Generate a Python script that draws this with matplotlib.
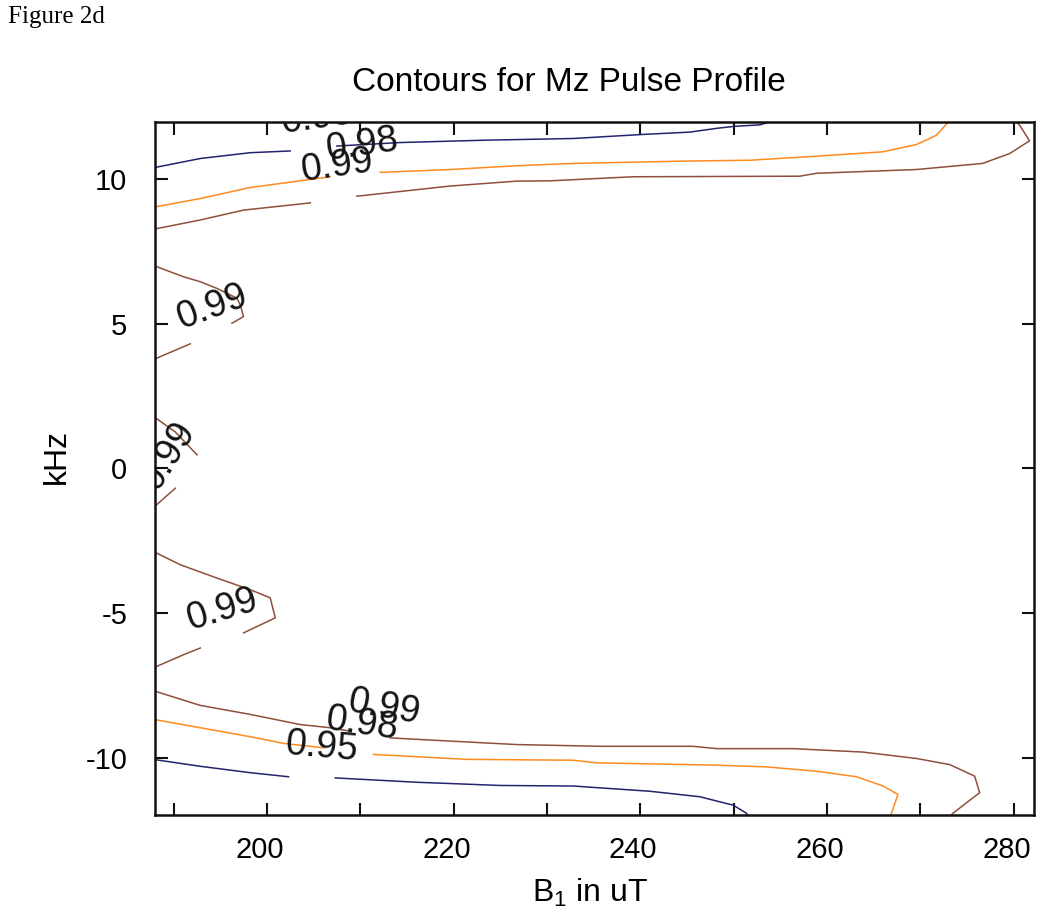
import matplotlib
matplotlib.use("Agg")
import matplotlib.pyplot as plt
from matplotlib.transforms import ScaledTranslation

plt.rcParams["font.family"] = ["Liberation Sans", "DejaVu Sans"]
plt.rcParams["mathtext.default"] = "regular"
plt.rcParams["axes.unicode_minus"] = False

NAVY = "#23246e"
ORANGE = "#ff8a1e"
BROWN = "#8e4f3c"

# contour level 0.95 (navy)
c95_top_a_x = [188.0, 192.86, 198.21, 202.49]
c95_top_a_y = [10.38, 10.69, 10.89, 10.95]
c95_top_b_x = [207.49, 214.27, 223.19, 232.83, 240.29, 245.32, 248.18, 250.14, 252.82, 254.3]
c95_top_b_y = [11.12, 11.24, 11.32, 11.38, 11.52, 11.60, 11.73, 11.80, 11.85, 12.0]
c95_bot_a_x = [188.0, 192.86, 198.21, 202.31]
c95_bot_a_y = [-10.04, -10.27, -10.49, -10.63]
c95_bot_b_x = [207.31, 216.06, 224.98, 232.83, 241.04, 246.39, 249.96, 251.39, 251.6]
c95_bot_b_y = [-10.67, -10.82, -10.93, -10.95, -11.13, -11.32, -11.61, -11.89, -12.0]

# contour level 0.98 (orange)
c98_top_a_x = [188.0, 192.86, 198.21, 203.56, 206.78]
c98_top_a_y = [9.02, 9.31, 9.69, 9.92, 10.06]
c98_top_b_x = [212.13, 219.63, 226.77, 232.80, 244.57, 251.75, 258.89, 265.98, 269.59, 271.73, 272.80, 273.1]
c98_top_b_y = [10.21, 10.31, 10.44, 10.52, 10.60, 10.63, 10.77, 10.92, 11.17, 11.49, 11.87, 12.0]
c98_bot_a_x = [188.0, 192.86, 198.21, 201.78, 206.06]
c98_bot_a_y = [-8.66, -8.94, -9.25, -9.48, -9.63]
c98_bot_b_x = [211.41, 221.41, 232.80, 235.33, 248.18, 253.53, 258.89, 263.17, 266.02, 267.62, 266.92, 266.8]
c98_bot_b_y = [-9.86, -10.03, -10.06, -10.15, -10.23, -10.29, -10.44, -10.63, -10.95, -11.24, -11.89, -12.0]

# contour level 0.99 (brown)
c99_top_a_x = [188.0, 192.86, 197.49, 204.64]
c99_top_a_y = [8.26, 8.57, 8.91, 9.16]
c99_top_b_x = [209.64, 219.63, 226.77, 230.33, 239.22, 257.10, 258.89, 269.59, 276.69, 279.58, 281.72, 280.65, 279.9]
c99_top_b_y = [9.39, 9.74, 9.91, 9.92, 10.06, 10.08, 10.18, 10.31, 10.52, 10.86, 11.30, 11.84, 12.08]
c99_p5_a_x = [188.0, 191.07, 192.86, 194.65, 196.79, 197.14, 197.49, 196.25]
c99_p5_a_y = [6.98, 6.61, 6.44, 6.21, 5.87, 5.64, 5.24, 5.01]
c99_p5_b_x = [191.79, 188.0]
c99_p5_b_y = [4.30, 3.78]
c99_0_a_x = [188.0, 190.18, 192.51]
c99_0_a_y = [1.76, 1.26, 0.47]
c99_0_b_x = [190.18, 188.0]
c99_0_b_y = [-0.68, -1.30]
c99_m5_a_x = [188.0, 190.72, 194.65, 198.21, 200.35, 200.89, 197.49]
c99_m5_a_y = [-2.89, -3.32, -3.78, -4.18, -4.46, -5.15, -5.67]
c99_m5_b_x = [192.86, 191.07, 188.0]
c99_m5_b_y = [-6.19, -6.42, -6.85]
c99_bot_a_x = [188.0, 192.86, 198.21, 203.56, 206.78, 208.92]
c99_bot_a_y = [-7.68, -8.17, -8.48, -8.83, -8.94, -9.06]
c99_bot_b_x = [213.20, 219.63, 226.77, 235.69, 245.67, 248.18, 256.38, 263.88, 269.59,
               273.16, 275.84, 276.37, 274.95, 273.51, 273.2]
c99_bot_b_y = [-9.29, -9.40, -9.52, -9.58, -9.58, -9.66, -9.66, -9.78, -10.00,
               -10.21, -10.61, -11.18, -11.53, -11.89, -12.0]

# inline labels: text, x, y, angle
lab_text = ["0.95", "0.98", "0.99", "0.99", "0.99", "0.99", "0.99", "0.98", "0.95"]
lab_x = [205.4, 210.2, 207.5, 194.1, 189.4, 195.2, 212.5, 210.2, 205.9]
lab_y = [12.1, 11.15, 10.43, 5.57, 0.45, -4.88, -8.24, -8.83, -9.62]
lab_rot = [8, 8, 8, 20, 58, 17, -10, -8, -5]

segments = [
    (c95_top_a_x, c95_top_a_y, NAVY), (c95_top_b_x, c95_top_b_y, NAVY),
    (c95_bot_a_x, c95_bot_a_y, NAVY), (c95_bot_b_x, c95_bot_b_y, NAVY),
    (c98_top_a_x, c98_top_a_y, ORANGE), (c98_top_b_x, c98_top_b_y, ORANGE),
    (c98_bot_a_x, c98_bot_a_y, ORANGE), (c98_bot_b_x, c98_bot_b_y, ORANGE),
    (c99_top_a_x, c99_top_a_y, BROWN), (c99_top_b_x, c99_top_b_y, BROWN),
    (c99_p5_a_x, c99_p5_a_y, BROWN), (c99_p5_b_x, c99_p5_b_y, BROWN),
    (c99_0_a_x, c99_0_a_y, BROWN), (c99_0_b_x, c99_0_b_y, BROWN),
    (c99_m5_a_x, c99_m5_a_y, BROWN), (c99_m5_b_x, c99_m5_b_y, BROWN),
    (c99_bot_a_x, c99_bot_a_y, BROWN), (c99_bot_b_x, c99_bot_b_y, BROWN),
]

fig = plt.figure(figsize=(10.5, 9.17), dpi=100)
ax = fig.add_axes([0.1476, 0.1112, 0.8372, 0.7558])

for xs, ys, col in segments:
    ax.plot(xs, ys, color=col, linewidth=1.1)

for t, x, y, r in zip(lab_text, lab_x, lab_y, lab_rot):
    ax.text(x, y, t, fontsize=27, rotation=r, rotation_mode="anchor",
            ha="center", va="center", color="#151515", clip_on=True)

ax.set_xlim(188.0, 282.2)
ax.set_ylim(-11.95, 11.95)
ax.set_xticks([200, 220, 240, 260, 280])
ax.set_xticks([190, 210, 230, 250, 270], minor=True)
ax.set_yticks([-10, -5, 0, 5, 10])
ax.tick_params(which="both", direction="in", top=True, right=True,
               length=9, width=1.5, labelsize=21, color="#111111")
ax.tick_params(axis="x", pad=15)
ax.tick_params(axis="y", pad=20)
# gnuplot put the x labels a few pixels left of their ticks
shift = ScaledTranslation(-7 / 100, 0, fig.dpi_scale_trans)
for lbl in ax.get_xticklabels():
    lbl.set_transform(lbl.get_transform() + shift)
for s in ax.spines.values():
    s.set_linewidth(1.8)
    s.set_color("#111111")

ax.set_xlabel("B$_1$ in uT", fontsize=23)
ax.set_ylabel("kHz", fontsize=23)
ax.xaxis.set_label_coords(0.495, -0.1126)
ax.yaxis.set_label_coords(-0.112, 0.517)
ax.xaxis.label.set_va("center")
ax.yaxis.label.set_va("center")
ax.set_title("Contours for Mz Pulse Profile", fontsize=24, x=0.471, y=1.057, pad=0, va="center")

fig.text(0.008, 0.981, "Figure 2d", fontsize=18, family="Liberation Serif", va="center")

fig.savefig("out.png", dpi=100, facecolor="white")
